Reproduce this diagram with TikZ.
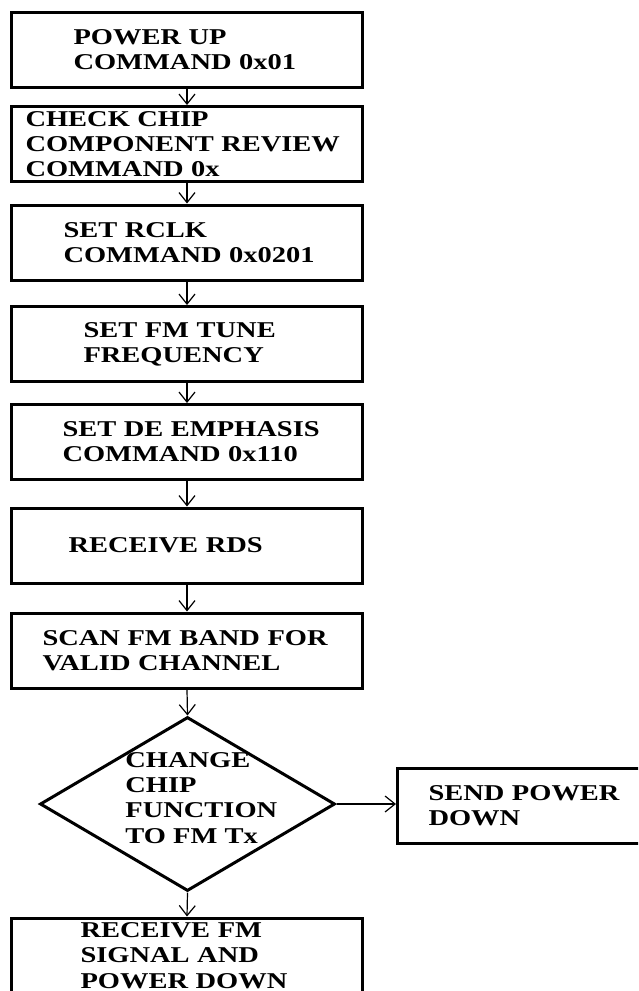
\documentclass[tikz,border=0pt]{standalone}
\usepackage{fontspec}
\setmainfont{Liberation Serif}[FakeStretch=1.26]
\usetikzlibrary{shapes.geometric,arrows.meta,positioning}

\begin{document}
\begin{tikzpicture}[
  x=0.5pt, y=-0.5pt,
  stepbox/.style={draw, line width=1.5pt, minimum height=37.5pt,
    text width=175.5pt, inner xsep=0pt, inner ysep=2pt, align=left,
    font=\fontsize{11.3}{12.6}\selectfont\bfseries,
    execute at begin node={\leftskip=#1}},
  stepbox/.default=20pt,
  decision/.style={draw, diamond, line width=1.5pt, aspect=1.7,
    minimum width=147.5pt, minimum height=87pt, inner sep=0pt},
  steptext/.style={align=left, inner sep=0pt,
    font=\fontsize{11.3}{12.6}\selectfont\bfseries},
  flow/.style={-{Straight Barb[length=5pt,width=8pt]}, line width=0.6pt}
]
\clip (0,0) rectangle (638,991);

% main column
\node[stepbox=31pt]   (pwrup) at (187,50)    {POWER UP\\COMMAND 0x01};
\node[stepbox=7pt]    (chk)   at (187,144)   {CHECK CHIP\\COMPONENT REVIEW\\COMMAND 0x};
\node[stepbox=26pt]   (rclk)  at (187,242.5) {SET RCLK\\COMMAND 0x0201};
\node[stepbox=36pt]   (tune)  at (187,344)   {SET FM TUNE\\FREQUENCY};
\node[stepbox=25.5pt] (demph) at (187,442)   {SET DE EMPHASIS\\COMMAND 0x110};
\node[stepbox=28.5pt] (rds)   at (187,545.5) {RECEIVE RDS};
\node[stepbox=15.5pt] (scan)  at (187,650.5) {SCAN FM BAND FOR\\VALID CHANNEL};
\node[decision]       (chg)   at (187.5,804) {};
\node[steptext, anchor=west] (chgtxt) at (125,798) {CHANGE\\CHIP\\FUNCTION\\TO FM Tx};
\node[stepbox=34.5pt] (rcvfm) at (187,955.5) {RECEIVE FM\\SIGNAL AND\\POWER DOWN};

% side branch
\node[stepbox=15.5pt] (pdown) at (573,806)   {SEND POWER\\DOWN};

\draw[flow] (pwrup.south) -- (chk.north);
\draw[flow] (chk.south) -- (rclk.north);
\draw[flow] (rclk.south) -- (tune.north);
\draw[flow] (tune.south) -- (demph.north);
\draw[flow] (demph.south) -- (rds.north);
\draw[flow] (rds.south) -- (scan.north);
\draw[flow] (scan.south) -- (chg.north);
\draw[flow] (chg.south) -- (rcvfm.north);
\draw[flow] (chg.east) -- (chg.east -| pdown.west);
\end{tikzpicture}
\end{document}
